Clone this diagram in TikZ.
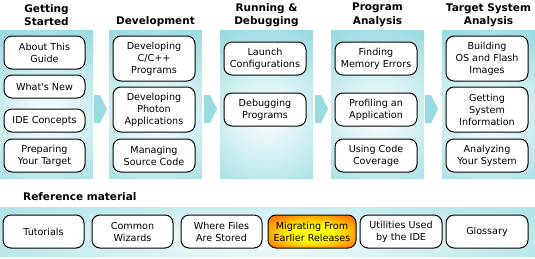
\documentclass[tikz,border=0pt]{standalone}
\usepackage{fontspec}
\setmainfont{DejaVu Sans}
\usetikzlibrary{calc}
\definecolor{panelcyan}{RGB}{153,219,225}
\definecolor{migorange}{RGB}{255,102,0}
\definecolor{migyellow}{RGB}{255,255,0}
\pgfdeclareradialshading{migshade}{\pgfpoint{0bp}{-3bp}}{color(0bp)=(migyellow); color(12bp)=(migyellow); color(34bp)=(migorange); color(50bp)=(migorange)}
\begin{document}
\begin{tikzpicture}[x=1pt,y=-1pt,
 panel/.style={fill=panelcyan, inner sep=0pt, minimum width=93pt, minimum height=148pt,
   path picture={\shade[inner color=white, outer color=panelcyan] ([yshift=-12pt]path picture bounding box.center) circle[radius=95pt];}},
 band/.style={fill=panelcyan, inner sep=0pt, minimum width=535pt, minimum height=49pt,
   path picture={\shade[inner color=white, outer color=panelcyan] ([yshift=-6pt]path picture bounding box.center) ellipse[x radius=420pt, y radius=60pt];}},
 box/.style={draw=black, line width=1pt, fill=white, rounded corners=8pt, align=center, inner sep=0pt,
   font=\fontsize{9.6}{12}\selectfont, text=black, minimum width=82pt},
 hbox/.style={box, minimum height=33pt},
 tbox/.style={box, minimum height=45pt},
 sbox/.style={box, minimum height=23pt},
 head/.style={font=\fontsize{10.5}{13.5}\selectfont\bfseries, align=center, inner sep=0pt},
 chev/.pic={\fill[panelcyan] (0,-14) -- (6,-14) -- (13,0) -- (6,14) -- (0,14) -- cycle;}
]
\useasboundingbox (0,0) rectangle (535,258);
\fill[white] (0,0) rectangle (535,258);

% panels
\node[panel] (p1) at (46.5,104) {};
\node[panel] (p2) at (155.5,104) {};
\node[panel] (p3) at (266.5,104) {};
\node[panel] (p4) at (377.5,104) {};
\node[panel] (p5) at (488.5,104) {};

% arrows between panels
\pic at (94,109) {chev};
\pic at (204,109) {chev};
\pic at (315,109) {chev};
\pic at (425,109) {chev};

% headings
\node[head] (h1) at (46.5,15) {Getting\\Started};
\node[head] (h2) at (155.5,21.5) {Development};
\node[head] (h3) at (266.5,15) {Running \&\\Debugging};
\node[head] (h4) at (377.5,15) {Program\\Analysis};
\node[head] (h5) at (488.5,15) {Target System\\Analysis};

% column 1
\node[hbox, minimum width=81pt] (about) at (44.5,52.5) {About This\\Guide};
\node[sbox, minimum width=81pt] (new) at (44.5,86.5) {What\textquotesingle s New};
\node[sbox, minimum width=81pt] (ide) at (44.5,120.5) {IDE Concepts};
\node[hbox, minimum width=81pt] (prep) at (44.5,155.5) {Preparing\\Your Target};

% column 2
\node[tbox] (devc) at (154,58.5) {Developing\\C/C++\\Programs};
\node[tbox] (devph) at (154,109.5) {Developing\\Photon\\Applications};
\node[hbox] (manage) at (154,155.5) {Managing\\Source Code};

% column 3
\node[hbox] (launch) at (265,58.5) {Launch\\Configurations};
\node[hbox] (debug) at (265,109.5) {Debugging\\Programs};

% column 4
\node[hbox] (mem) at (376,58.5) {Finding\\Memory Errors};
\node[hbox] (prof) at (376,109.5) {Profiling an\\Application};
\node[hbox] (cov) at (376,155.5) {Using Code\\Coverage};

% column 5
\node[tbox] (build) at (487,58.5) {Building\\OS and Flash\\Images};
\node[tbox] (sysinfo) at (487,109.5) {Getting\\System\\Information};
\node[hbox] (analyze) at (487,155.5) {Analyzing\\Your System};

% reference material
\node[head, anchor=west] (refhead) at (23,197) {Reference material};
\node[band] (refband) at (267.5,231.5) {};
\node[hbox, minimum width=81pt] (tut) at (43.5,231.5) {Tutorials};
\node[hbox, minimum width=81pt] (wiz) at (132.5,231.5) {Common\\Wizards};
\node[hbox, minimum width=81pt] (files) at (221.5,231.5) {Where Files\\Are Stored};
\node[hbox, minimum width=88pt, shading=migshade] (mig) at (312,231.5) {Migrating From\\Earlier Releases};
\node[hbox] (util) at (401,231.5) {Utilities Used\\by the IDE};
\node[hbox] (gloss) at (487,231.5) {Glossary};
\end{tikzpicture}
\end{document}
